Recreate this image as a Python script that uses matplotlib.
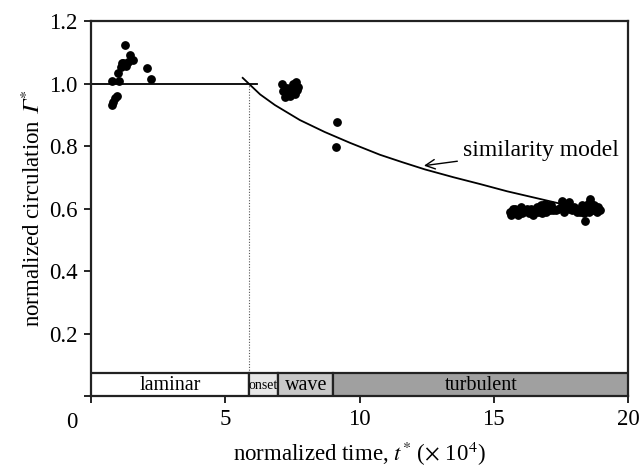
import matplotlib
matplotlib.use("Agg")
import matplotlib.pyplot as plt
from matplotlib.patches import Rectangle

plt.rcParams['font.family'] = ['Liberation Serif', 'DejaVu Serif']
plt.rcParams['mathtext.fontset'] = 'stix'

# ---- data ----
laminar_t = [0.77, 0.82, 0.89, 0.96, 0.79, 1.05, 1.00, 1.10, 1.29, 1.20, 1.39, 2.07, 2.22, 1.27, 1.45, 1.56, 1.15]
laminar_g = [0.931, 0.942, 0.953, 0.961, 1.009, 1.009, 1.035, 1.054, 1.056, 1.067, 1.07, 1.049, 1.014, 1.123, 1.09, 1.075, 1.065]

wave_t = [7.11, 7.52, 7.63, 7.22, 7.35, 7.70, 7.45, 7.15, 7.30, 7.58, 7.66, 7.40, 7.25, 9.15, 9.11]
wave_g = [0.998, 0.998, 1.005, 0.957, 0.965, 0.99, 0.975, 0.975, 0.985, 0.965, 0.98, 0.96, 0.97, 0.877, 0.798]

turb_t = [15.6, 15.65, 15.7, 15.75, 15.8, 15.85, 15.9, 15.95, 16.0, 16.05, 16.1, 16.2, 16.25,
          16.3, 16.35, 16.4, 16.45, 16.5, 16.55, 16.6, 16.65, 16.7, 16.75, 16.8, 16.85, 16.9,
          16.95, 17.0, 17.05, 17.1, 17.15, 17.2, 17.3, 17.4, 17.5, 17.55, 17.6, 17.7, 17.8,
          17.85, 17.9, 18.0, 18.1, 18.2, 18.3, 18.35, 18.4, 18.45, 18.5, 18.55, 18.6, 18.65,
          18.7, 18.75, 18.8, 18.85, 18.9, 18.95, 15.7, 16.0, 16.4, 16.8, 17.2, 17.6, 18.2, 18.6]
turb_g = [0.59, 0.58, 0.595, 0.585, 0.60, 0.59, 0.58, 0.595, 0.60, 0.585, 0.59, 0.595, 0.60,
          0.585, 0.59, 0.60, 0.58, 0.595, 0.59, 0.605, 0.59, 0.60, 0.61, 0.595, 0.60, 0.615,
          0.59, 0.605, 0.60, 0.595, 0.61, 0.60, 0.595, 0.60, 0.605, 0.625, 0.59, 0.60, 0.62,
          0.60, 0.595, 0.605, 0.59, 0.60, 0.61, 0.585, 0.56, 0.60, 0.615, 0.59, 0.63, 0.605,
          0.595, 0.61, 0.60, 0.59, 0.605, 0.595, 0.60, 0.605, 0.595, 0.585, 0.595, 0.61, 0.59, 0.62]

model_t = [5.65, 6.3, 6.85, 7.78, 8.7, 9.65, 10.76, 11.6, 12.44, 13.5, 14.5, 15.5, 16.5, 17.5, 18.3, 19.0]
model_g = [1.018, 0.965, 0.931, 0.883, 0.845, 0.81, 0.772, 0.748, 0.725, 0.70, 0.678, 0.655, 0.635, 0.615, 0.603, 0.595]

laminar_level_t = [0.0, 6.2]
laminar_level_g = [1.0, 1.0]

regime_names = ['laminar', 'onset', 'wave', 'turbulent']
regime_edges = [0.0, 5.87, 6.97, 9.03, 20.0]
regime_colors = ['#ffffff', '#e6e6e6', '#c8c8c8', '#a0a0a0']

x_ticks = [0, 5, 10, 15, 20]
x_ticklabels = ['', '5', '10', '15', '20']
y_ticks = [0, 0.2, 0.4, 0.6, 0.8, 1.0, 1.2]
y_ticklabels = ['', '0.2', '0.4', '0.6', '0.8', '1.0', '1.2']

# ---- figure ----
fig = plt.figure(figsize=(6.41, 4.69), dpi=100)
ax = fig.add_axes([91/641, 1-396/469, (628-91)/641, (396-21)/469])

band_h = 0.0736
for name, x0, x1, c in zip(regime_names, regime_edges[:-1], regime_edges[1:], regime_colors):
    ax.add_patch(Rectangle((x0, 0), x1 - x0, band_h, facecolor=c, edgecolor='#222222', lw=1.6, zorder=3))
    fs = 10 if name == 'onset' else 14.5
    ax.text((x0 + x1) / 2, band_h / 2 - 0.002, name, ha='center', va='center', fontsize=fs, zorder=4)

ax.plot([regime_edges[1], regime_edges[1]], [band_h, 1.0], color='#555555', lw=0.8, ls=(0, (1, 1.5)), zorder=1)
ax.plot(laminar_level_t, laminar_level_g, color='black', lw=1.3, zorder=2)
ax.plot(model_t, model_g, color='black', lw=1.3, zorder=2)

ax.scatter(laminar_t, laminar_g, s=28, color='black', zorder=5)
ax.scatter(wave_t, wave_g, s=28, color='black', zorder=5)
ax.scatter(turb_t, turb_g, s=28, color='black', zorder=5)

ax.annotate('similarity model', xy=(12.4, 0.737), xytext=(13.85, 0.787),
            fontsize=17, ha='left', va='center',
            arrowprops=dict(arrowstyle='->', color='black', lw=1.0, shrinkA=2, shrinkB=0))

ax.set_xlim(0, 20)
ax.set_ylim(0, 1.2)
ax.set_xticks(x_ticks)
ax.set_xticklabels(x_ticklabels)
ax.set_yticks(y_ticks)
ax.set_yticklabels(y_ticklabels)
ax.tick_params(direction='out', length=5, width=1.2, labelsize=16.5, colors='black', pad=4.5)
for sp in ax.spines.values():
    sp.set_linewidth(1.6)
    sp.set_color('#222222')

fig.text(72/641, 1-422/469, '0', ha='center', va='center', fontsize=16.5)
ax.set_xlabel(r'normalized time, $t^{*}$ ($\times$ 10$^{4}$)', fontsize=16.5, labelpad=7)
ax.set_ylabel('normalized circulation $𝛤^{*}$', fontsize=16.5, labelpad=3)

fig.savefig('out.png', dpi=100)
